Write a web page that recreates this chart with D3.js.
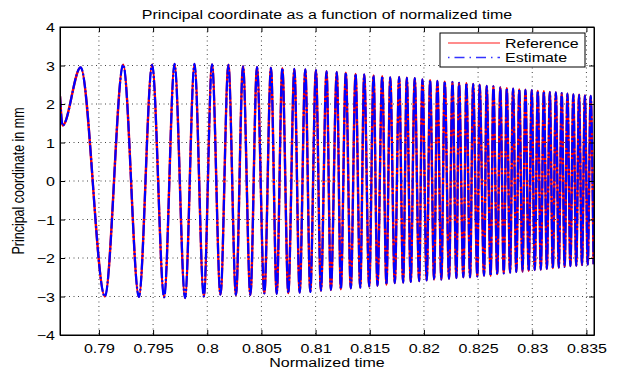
<!DOCTYPE html>
<html>
<head>
<meta charset="utf-8">
<script src="https://cdn.jsdelivr.net/npm/d3@7"></script>
<style>
  html, body { margin: 0; padding: 0; background: #fff; }
  text { font-family: "Liberation Sans", Arial, sans-serif; font-size: 12.5px; fill: #000; }
</style>
</head>
<body>
<svg id="plot" width="620" height="369"></svg>
<script>
// extrema of the curve (normalized time, value in mm)
const extremaTime = [
  0.78641, 0.78665, 0.78831, 0.79055, 0.79224, 0.79369, 0.79491, 0.79602, 0.79698, 0.79795,
  0.79882, 0.79968, 0.80044, 0.80122, 0.80195, 0.80265, 0.8033, 0.80398, 0.80459, 0.80527,
  0.80588, 0.80641, 0.80693, 0.80748, 0.80804, 0.80853, 0.80905, 0.80951, 0.81003, 0.81049,
  0.81101, 0.81141, 0.81196, 0.81233, 0.81279, 0.81325, 0.81369, 0.81412, 0.81449, 0.81495,
  0.81535, 0.81571, 0.81615, 0.81654, 0.81689, 0.81731, 0.81771, 0.81808, 0.81842, 0.81878,
  0.81915, 0.81956, 0.81986, 0.82026, 0.82057, 0.82094, 0.82124, 0.82161, 0.82192, 0.82232,
  0.82263, 0.823, 0.82324, 0.82364, 0.82392, 0.82426, 0.82454, 0.82493, 0.82514, 0.82555,
  0.82579, 0.82616, 0.82641, 0.82677, 0.82705, 0.82737, 0.82765, 0.82795, 0.82823, 0.82853,
  0.8288, 0.8291, 0.82937, 0.82967, 0.82995, 0.83023, 0.83051, 0.83079, 0.83107, 0.83135,
  0.83162, 0.8319, 0.83218, 0.83245, 0.83272, 0.83299, 0.83325, 0.83352, 0.83379, 0.83406,
  0.83432, 0.83459, 0.83486, 0.83512, 0.83539, 0.83566
];

const referenceVals = [
  2.2, 1.44, 2.95, -3.0, 3.02, -3.01, 3.02, -3.02, 3.04, -3.04,
  3.04, -3.0, 3.03, -2.95, 3.02, -2.96, 2.98, -2.96, 2.96, -2.92,
  2.94, -2.93, 2.93, -2.91, 2.91, -2.9, 2.9, -2.88, 2.88, -2.85,
  2.85, -2.83, 2.83, -2.81, 2.81, -2.79, 2.78, -2.77, 2.77, -2.74,
  2.74, -2.72, 2.72, -2.69, 2.69, -2.65, 2.7, -2.64, 2.68, -2.62,
  2.67, -2.6, 2.64, -2.58, 2.62, -2.56, 2.6, -2.56, 2.58, -2.54,
  2.57, -2.52, 2.55, -2.5, 2.54, -2.5, 2.52, -2.48, 2.5, -2.46,
  2.47, -2.46, 2.46, -2.42, 2.43, -2.4, 2.41, -2.38, 2.4, -2.36,
  2.38, -2.35, 2.37, -2.33, 2.36, -2.31, 2.34, -2.3, 2.33, -2.28,
  2.31, -2.26, 2.3, -2.25, 2.28, -2.23, 2.27, -2.21, 2.25, -2.2,
  2.24, -2.18, 2.22, -2.17, 2.21, -2.16
];

// the estimate lies on top of the reference everywhere in the picture
const estimateVals = [
  2.2, 1.44, 2.95, -3.0, 3.02, -3.01, 3.02, -3.02, 3.04, -3.04,
  3.04, -3.0, 3.03, -2.95, 3.02, -2.96, 2.98, -2.96, 2.96, -2.92,
  2.94, -2.93, 2.93, -2.91, 2.91, -2.9, 2.9, -2.88, 2.88, -2.85,
  2.85, -2.83, 2.83, -2.81, 2.81, -2.79, 2.78, -2.77, 2.77, -2.74,
  2.74, -2.72, 2.72, -2.69, 2.69, -2.65, 2.7, -2.64, 2.68, -2.62,
  2.67, -2.6, 2.64, -2.58, 2.62, -2.56, 2.6, -2.56, 2.58, -2.54,
  2.57, -2.52, 2.55, -2.5, 2.54, -2.5, 2.52, -2.48, 2.5, -2.46,
  2.47, -2.46, 2.46, -2.42, 2.43, -2.4, 2.41, -2.38, 2.4, -2.36,
  2.38, -2.35, 2.37, -2.33, 2.36, -2.31, 2.34, -2.3, 2.33, -2.28,
  2.31, -2.26, 2.3, -2.25, 2.28, -2.23, 2.27, -2.21, 2.25, -2.2,
  2.24, -2.18, 2.22, -2.17, 2.21, -2.16
];

const xTicks = [0.79, 0.795, 0.8, 0.805, 0.81, 0.815, 0.82, 0.825, 0.83, 0.835];
const xTickLabels = ['0.79', '0.795', '0.8', '0.805', '0.81', '0.815', '0.82', '0.825', '0.83', '0.835'];
const yTicks = [-4, -3, -2, -1, 0, 1, 2, 3, 4];
const yTickLabels = ['\u22124', '\u22123', '\u22122', '\u22121', '0', '1', '2', '3', '4'];
const seriesNames = ['Reference', 'Estimate'];

const margin = { top: 27, right: 26, bottom: 34, left: 60 };
const width = 620 - margin.left - margin.right;
const height = 369 - margin.top - margin.bottom;
const stretch = 'scale(1.28,1)';   // the source figure was widened, text included

const svg = d3.select('#plot');
const g = svg.append('g').attr('transform', `translate(${margin.left},${margin.top})`);

const x = d3.scaleLinear().domain([0.786406, 0.8357]).range([0, width]);
const y = d3.scaleLinear().domain([-4, 4]).range([height, 0]);

// dotted grid
g.append('g').selectAll('line')
  .data(xTicks)
  .join('line')
    .attr('x1', (d) => x(d)).attr('x2', (d) => x(d))
    .attr('y1', 0).attr('y2', height)
    .attr('stroke', '#444').attr('stroke-dasharray', '1,3.5');
g.append('g').selectAll('line')
  .data(yTicks.slice(1, -1))
  .join('line')
    .attr('x1', 0).attr('x2', width)
    .attr('y1', (d) => y(d)).attr('y2', (d) => y(d))
    .attr('stroke', '#444').attr('stroke-dasharray', '1,3.5');

g.append('clipPath').attr('id', 'clip')
  .append('rect').attr('width', width).attr('height', height);

const line = d3.line()
  .x((d) => x(d[0]))
  .y((d) => y(d[1]))
  .curve(d3.curveMonotoneX);

const refData = extremaTime.map((t, i) => [t, referenceVals[i]]);
const estData = extremaTime.map((t, i) => [t, estimateVals[i]]);

const plot = g.append('g').attr('clip-path', 'url(#clip)');
plot.append('path')
  .datum(refData)
  .attr('fill', 'none')
  .attr('stroke', '#ff0000')
  .attr('stroke-width', 2.4)
  .attr('stroke-linejoin', 'round')
  .attr('d', line);
plot.append('path')
  .datum(estData)
  .attr('fill', 'none')
  .attr('stroke', '#0000ff')
  .attr('stroke-width', 2.2)
  .attr('stroke-dasharray', '11,2,2,2')
  .attr('d', line);

// axes, ticks pointing inward, box on
const xAxis = g.append('g')
  .attr('transform', `translate(0,${height})`)
  .call(d3.axisBottom(x).tickValues(xTicks).tickSize(-5).tickSizeOuter(0)
    .tickFormat((d, i) => xTickLabels[i]));
xAxis.selectAll('text').attr('y', 18).attr('dy', null).attr('transform', stretch);

const yAxis = g.append('g')
  .call(d3.axisLeft(y).tickValues(yTicks).tickSize(-5).tickSizeOuter(0)
    .tickFormat((d, i) => yTickLabels[i]));
yAxis.selectAll('text').attr('x', 0).attr('dy', '0.36em').attr('transform', `translate(-5,0) ${stretch}`);

g.append('g').call(d3.axisTop(x).tickValues(xTicks).tickSize(-5).tickSizeOuter(0).tickFormat(''));
g.append('g').attr('transform', `translate(${width},0)`)
  .call(d3.axisRight(y).tickValues(yTicks).tickSize(-5).tickSizeOuter(0).tickFormat(''));

g.selectAll('.domain').attr('stroke', '#000');
g.selectAll('.tick line').attr('stroke', '#000');
g.selectAll('.tick text').style('font-size', '12.5px').style('font-family', '"Liberation Sans", Arial, sans-serif');

g.append('rect')
  .attr('width', width).attr('height', height)
  .attr('fill', 'none').attr('stroke', '#000');

// titles
svg.append('text')
  .attr('transform', `translate(${margin.left + width / 2},19) ${stretch}`)
  .attr('text-anchor', 'middle')
  .text('Principal coordinate as a function of normalized time');

svg.append('text')
  .attr('transform', `translate(${margin.left + width / 2},367) ${stretch}`)
  .attr('text-anchor', 'middle')
  .text('Normalized time');

svg.append('text')
  .attr('transform', `translate(23.5,${margin.top + height / 2}) ${stretch} rotate(-90)`)
  .attr('text-anchor', 'middle')
  .text('Principal coordinate in mm');

// legend
const legend = svg.append('g').attr('transform', 'translate(440,33)');
legend.append('rect')
  .attr('width', 145).attr('height', 34)
  .attr('fill', '#fff').attr('stroke', '#000');
const rows = legend.selectAll('g.row')
  .data(seriesNames)
  .join('g')
    .attr('class', 'row')
    .attr('transform', (d, i) => `translate(0,${10 + i * 14.5})`);
rows.append('line')
  .attr('x1', 8).attr('x2', 60)
  .attr('stroke', (d, i) => i === 0 ? '#ff6666' : '#3333ff')
  .attr('stroke-width', 1.6)
  .attr('stroke-dasharray', (d, i) => i === 0 ? null : '1.5,5,10,5');
rows.append('text')
  .attr('transform', `translate(65,4.5) ${stretch}`)
  .text((d) => d);
</script>
</body>
</html>
